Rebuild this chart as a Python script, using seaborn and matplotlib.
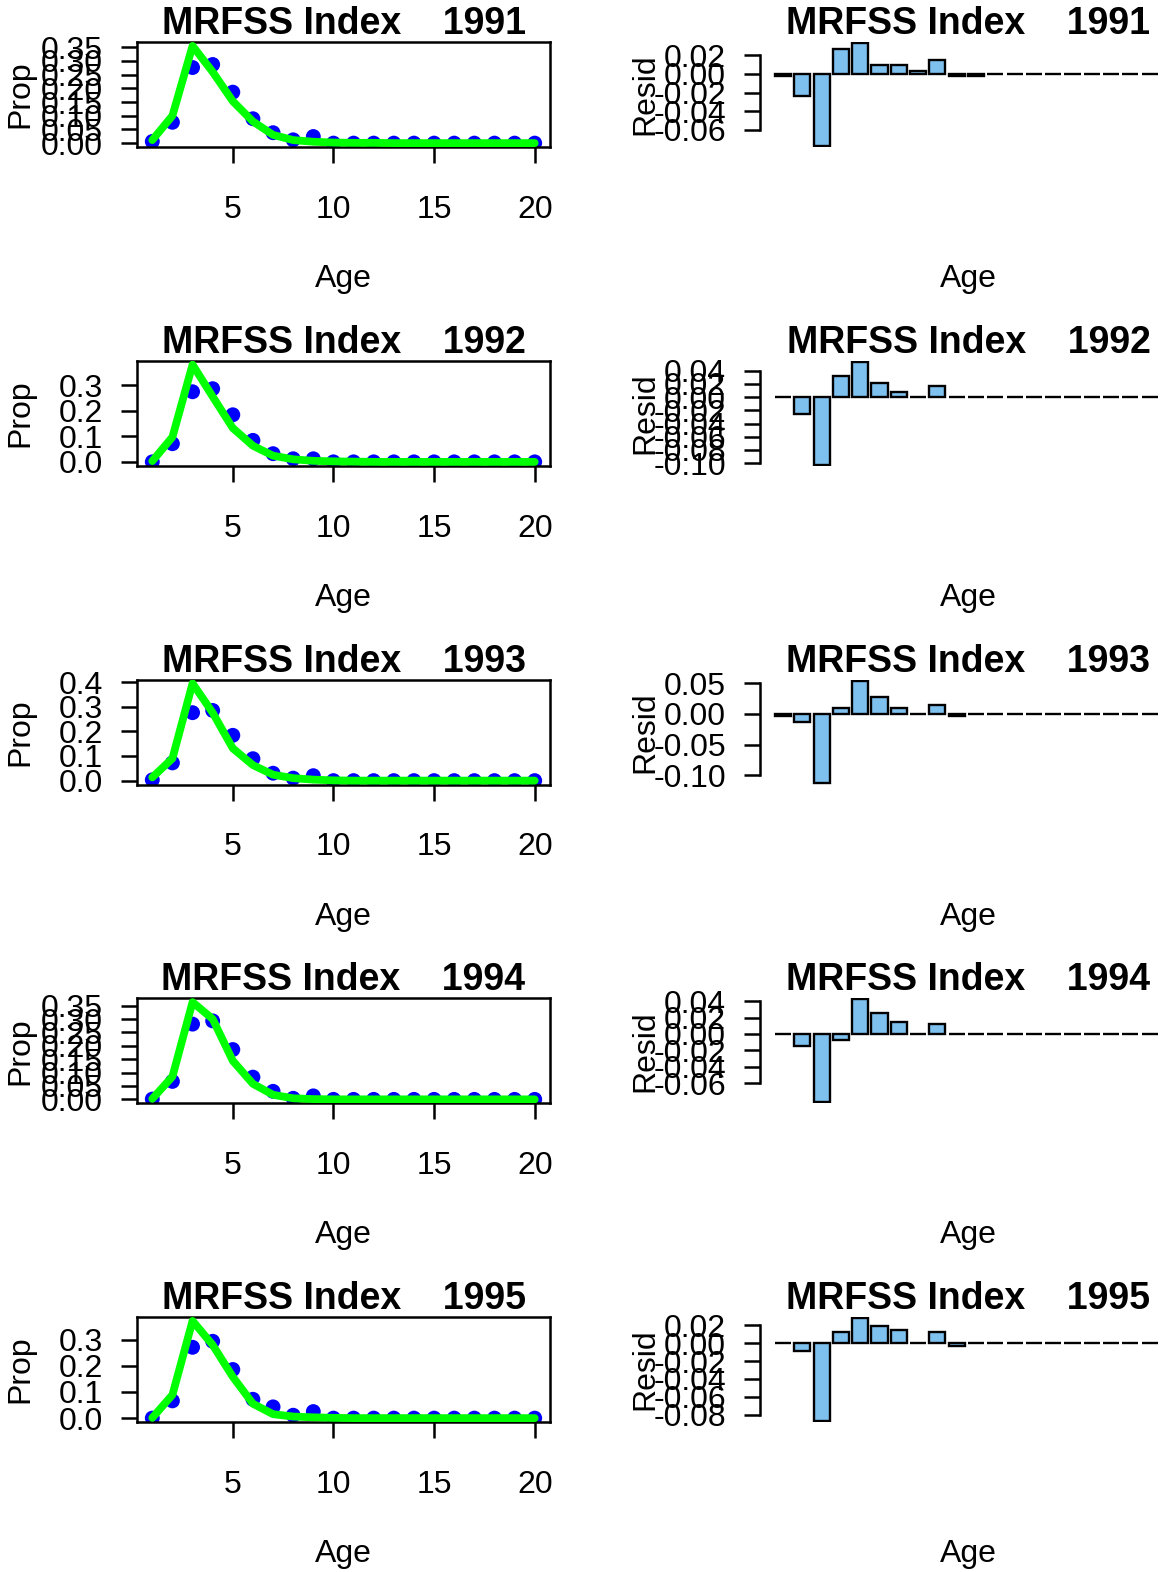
import matplotlib
matplotlib.use("Agg")
import matplotlib.pyplot as plt
import pandas as pd
import seaborn as sns

# ---------------------------------------------------------------- data
ages = list(range(1, 21))
years = [1991, 1992, 1993, 1994, 1995]

# observed age composition (MRFSS index)
obs_1991 = [0.006, 0.076, 0.276, 0.287, 0.186, 0.089, 0.038, 0.012, 0.024, 0.000,
            0.000, 0.000, 0.000, 0.000, 0.000, 0.000, 0.000, 0.000, 0.000, 0.000]
obs_1992 = [0.000, 0.071, 0.274, 0.286, 0.184, 0.084, 0.032, 0.012, 0.012, 0.000,
            0.000, 0.000, 0.000, 0.000, 0.000, 0.000, 0.000, 0.000, 0.000, 0.000]
obs_1993 = [0.003, 0.072, 0.276, 0.285, 0.184, 0.089, 0.030, 0.010, 0.020, 0.000,
            0.000, 0.000, 0.000, 0.000, 0.000, 0.000, 0.000, 0.000, 0.000, 0.000]
obs_1994 = [0.001, 0.067, 0.281, 0.293, 0.186, 0.083, 0.030, 0.004, 0.013, 0.000,
            0.000, 0.000, 0.000, 0.000, 0.000, 0.000, 0.000, 0.000, 0.000, 0.000]
obs_1995 = [0.000, 0.066, 0.271, 0.294, 0.186, 0.072, 0.043, 0.011, 0.025, 0.000,
            0.000, 0.000, 0.000, 0.000, 0.000, 0.000, 0.000, 0.000, 0.000, 0.000]

# predicted age composition
pred_1991 = [0.011, 0.100, 0.355, 0.260, 0.153, 0.079, 0.030, 0.011, 0.005, 0.002,
             0.001, 0.001, 0.000, 0.000, 0.000, 0.000, 0.000, 0.000, 0.000, 0.000]
pred_1992 = [0.003, 0.097, 0.380, 0.255, 0.132, 0.063, 0.024, 0.010, 0.004, 0.002,
             0.001, 0.000, 0.000, 0.000, 0.000, 0.000, 0.000, 0.000, 0.000, 0.000]
pred_1993 = [0.013, 0.090, 0.395, 0.276, 0.131, 0.063, 0.024, 0.010, 0.004, 0.001,
             0.000, 0.000, 0.000, 0.000, 0.000, 0.000, 0.000, 0.000, 0.000, 0.000]
pred_1994 = [0.002, 0.085, 0.363, 0.300, 0.144, 0.058, 0.017, 0.004, 0.001, 0.000,
             0.000, 0.000, 0.000, 0.000, 0.000, 0.000, 0.000, 0.000, 0.000, 0.000]
pred_1995 = [0.001, 0.089, 0.372, 0.280, 0.158, 0.055, 0.015, 0.006, 0.003, 0.001,
             0.000, 0.000, 0.000, 0.000, 0.000, 0.000, 0.000, 0.000, 0.000, 0.000]

# residuals
resid_1991 = [-0.002, -0.024, -0.077, 0.027, 0.033, 0.010, 0.010, 0.003, 0.015, -0.002,
              -0.002, 0.000, 0.000, 0.000, 0.000, 0.000, 0.000, 0.000, 0.000, 0.000]
resid_1992 = [0.000, -0.025, -0.102, 0.032, 0.053, 0.021, 0.008, 0.000, 0.017, 0.000,
              0.000, 0.000, 0.000, 0.000, 0.000, 0.000, 0.000, 0.000, 0.000, 0.000]
resid_1993 = [-0.004, -0.013, -0.113, 0.009, 0.054, 0.027, 0.009, 0.000, 0.014, -0.003,
              0.000, 0.000, 0.000, 0.000, 0.000, 0.000, 0.000, 0.000, 0.000, 0.000]
resid_1994 = [0.000, -0.015, -0.083, -0.007, 0.042, 0.025, 0.015, 0.000, 0.012, 0.000,
              0.000, 0.000, 0.000, 0.000, 0.000, 0.000, 0.000, 0.000, 0.000, 0.000]
resid_1995 = [0.000, -0.009, -0.087, 0.012, 0.028, 0.019, 0.015, 0.000, 0.012, -0.003,
              0.000, 0.000, 0.000, 0.000, 0.000, 0.000, 0.000, 0.000, 0.000, 0.000]

# tick labels
age_ticks = [5, 10, 15, 20]
prop_ticks_1991 = ["0.00", "0.05", "0.10", "0.15", "0.20", "0.25", "0.30", "0.35"]
prop_ticks_1992 = ["0.0", "0.1", "0.2", "0.3"]
prop_ticks_1993 = ["0.0", "0.1", "0.2", "0.3", "0.4"]
prop_ticks_1994 = ["0.00", "0.05", "0.10", "0.15", "0.20", "0.25", "0.30", "0.35"]
prop_ticks_1995 = ["0.0", "0.1", "0.2", "0.3"]
resid_ticks_1991 = ["-0.06", "-0.04", "-0.02", "0.00", "0.02"]
resid_ticks_1992 = ["-0.10", "-0.08", "-0.06", "-0.04", "-0.02", "0.00", "0.02", "0.04"]
resid_ticks_1993 = ["-0.10", "-0.05", "0.00", "0.05"]
resid_ticks_1994 = ["-0.06", "-0.04", "-0.02", "0.00", "0.02", "0.04"]
resid_ticks_1995 = ["-0.08", "-0.06", "-0.04", "-0.02", "0.00", "0.02"]

obs_by_year = dict(zip(years, [obs_1991, obs_1992, obs_1993, obs_1994, obs_1995]))
pred_by_year = dict(zip(years, [pred_1991, pred_1992, pred_1993, pred_1994, pred_1995]))
resid_by_year = dict(zip(years, [resid_1991, resid_1992, resid_1993, resid_1994, resid_1995]))
prop_ticks = dict(zip(years, [prop_ticks_1991, prop_ticks_1992, prop_ticks_1993,
                              prop_ticks_1994, prop_ticks_1995]))
resid_ticks = dict(zip(years, [resid_ticks_1991, resid_ticks_1992, resid_ticks_1993,
                               resid_ticks_1994, resid_ticks_1995]))

# ---------------------------------------------------------------- style
sns.set_theme(style="ticks", rc={
    "axes.edgecolor": "black",
    "axes.linewidth": 1.8,
    "xtick.color": "black",
    "ytick.color": "black",
    "text.color": "black",
    "axes.labelcolor": "black",
})
plt.rcParams["font.family"] = ["Liberation Sans", "DejaVu Sans"]
plt.rcParams["axes.unicode_minus"] = False

FIG_W, FIG_H, DPI = 1161, 1572, 100
fig = plt.figure(figsize=(FIG_W / DPI, FIG_H / DPI), dpi=DPI)
fig.patch.set_facecolor("white")

TXT = 23
TITLE = 27
SEP = "    "


def add_axes_px(left, top, width, height):
    return fig.add_axes([left / FIG_W, 1 - (top + height) / FIG_H,
                         width / FIG_W, height / FIG_H])


ROW0, ROW_STEP, BOX_H = 42, 318.75, 105
L_LEFT, L_W = 137, 413
R_LEFT, R_W = 760, 417
BAR_PITCH = 19.3
LABEL_Y = -(279 - 147) / BOX_H

for i, year in enumerate(years):
    top = ROW0 + i * ROW_STEP

    # ---- observed vs predicted proportions
    ax = add_axes_px(L_LEFT, top, L_W, BOX_H)
    ax.set_facecolor("white")
    df = pd.DataFrame({"Age": ages, "obs": obs_by_year[year], "pred": pred_by_year[year]})
    sns.scatterplot(data=df, x="Age", y="obs", ax=ax, color="#0000FF", s=115,
                    marker="o", linewidth=0, edgecolor="none", zorder=2, legend=False)
    sns.lineplot(data=df, x="Age", y="pred", ax=ax, color="#00FF00", linewidth=5.6,
                 solid_capstyle="round", solid_joinstyle="round", zorder=3, legend=False)
    ymax = max(max(df["obs"]), max(df["pred"]))
    ax.set_xlim(1 - 0.04 * 19, 20 + 0.04 * 19)
    ax.set_ylim(-0.04 * ymax, ymax * 1.04)
    ax.set_xticks(age_ticks)
    ax.set_xticklabels([str(t) for t in age_ticks])
    ax.set_yticks([float(t) for t in prop_ticks[year]])
    ax.set_yticklabels(prop_ticks[year])
    ax.tick_params(axis="x", direction="out", length=11.5, width=1.8, pad=23, labelsize=TXT)
    ax.tick_params(axis="y", direction="out", length=11.5, width=1.8, pad=13, labelsize=TXT)
    for sp in ax.spines.values():
        sp.set_visible(True)
        sp.set_linewidth(1.8)
        sp.set_color("black")
    ax.set_title(f"MRFSS Index{SEP}{year}", fontsize=TITLE, fontweight="bold", pad=4.5)
    ax.set_xlabel("Age", fontsize=TXT, va="center")
    ax.xaxis.set_label_coords(0.5, LABEL_Y)
    ax.set_ylabel("Prop", fontsize=TXT, va="center")
    ax.yaxis.set_label_coords((20 - L_LEFT) / L_W, 0.5)

    # ---- residual bars
    ax2 = add_axes_px(R_LEFT, top, R_W, BOX_H)
    ax2.set_facecolor("none")
    dr = pd.DataFrame({"Age": ages, "Resid": resid_by_year[year]})
    sns.barplot(data=dr, x="Age", y="Resid", ax=ax2, color="#7EC0EE", saturation=1,
                edgecolor="black", linewidth=1.7, width=0.833, errorbar=None)
    lo, hi = min(dr["Resid"]), max(dr["Resid"])
    rng = hi - lo
    ax2.set_ylim(lo - 0.012 * rng, hi + 0.012 * rng)
    left_lim = -23 / BAR_PITCH
    ax2.set_xlim(left_lim, left_lim + R_W / BAR_PITCH)
    rt = [float(t) for t in resid_ticks[year]]
    ax2.set_yticks(rt)
    ax2.set_yticklabels(resid_ticks[year])
    ax2.set_xticks([])
    ax2.tick_params(axis="y", direction="out", length=11.5, width=1.8, pad=13, labelsize=TXT)
    for name in ("top", "right", "bottom"):
        ax2.spines[name].set_visible(False)
    ax2.spines["left"].set_linewidth(1.8)
    ax2.spines["left"].set_bounds(min(rt), max(rt))
    ax2.set_title(f"MRFSS Index{SEP}{year}", fontsize=TITLE, fontweight="bold", pad=4.5)
    ax2.set_xlabel("Age", fontsize=TXT, va="center")
    ax2.xaxis.set_label_coords(0.5, LABEL_Y)
    ax2.set_ylabel("Resid", fontsize=TXT, va="center")
    ax2.yaxis.set_label_coords((645 - R_LEFT) / R_W, 0.5)

fig.savefig("out.png", dpi=DPI, facecolor="white")
